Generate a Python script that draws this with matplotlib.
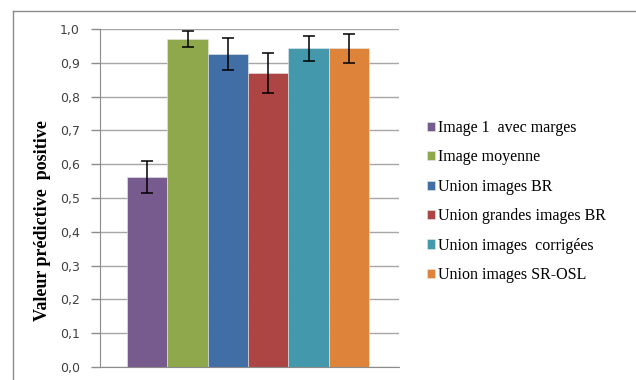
import matplotlib
matplotlib.use("Agg")
import matplotlib.pyplot as plt
from matplotlib.lines import Line2D

categories = ["Image 1  avec marges", "Image moyenne", "Union images BR",
              "Union grandes images BR", "Union images  corrigées", "Union images SR-OSL"]
values = [0.562, 0.970, 0.925, 0.870, 0.943, 0.943]
errors = [0.047, 0.023, 0.047, 0.060, 0.037, 0.043]
colors = ["#775A8E", "#8EA84B", "#416FA5", "#AC4543", "#4398AB", "#DD843A"]
yticks = [0.0, 0.1, 0.2, 0.3, 0.4, 0.5, 0.6, 0.7, 0.8, 0.9, 1.0]
ytick_labels = ["0,0", "0,1", "0,2", "0,3", "0,4", "0,5", "0,6", "0,7", "0,8", "0,9", "1,0"]
ylabel = "Valeur prédictive  positive"

W, H = 636, 380
fig = plt.figure(figsize=(W / 100, H / 100), dpi=100)
fig.patch.set_facecolor("white")

# outer chart border (top and left visible)
fig.add_artist(Line2D([13 / W, 13 / W], [0, 1 - 11 / H], transform=fig.transFigure,
                      color="#8c8c8c", lw=1))
fig.add_artist(Line2D([13 / W, 1], [1 - 11 / H, 1 - 11 / H], transform=fig.transFigure,
                      color="#8c8c8c", lw=1))

ax = fig.add_axes([100 / W, 1 - 367 / H, 299 / W, 338 / H])
x = list(range(len(categories)))
handles = []
for i in x:
    b = ax.bar(i, values[i], width=1.0, color=colors[i], edgecolor="#e8e8e8",
               linewidth=0.4, zorder=2, label=categories[i])
    handles.append(b)
ax.errorbar(x, values, yerr=errors, fmt="none", ecolor="black", elinewidth=1.1,
            capsize=4, capthick=1.1, zorder=3)

ax.set_xlim(-1.17, 6.24)
ax.set_ylim(0, 1.0)
ax.set_yticks(yticks)
ax.set_yticklabels(ytick_labels, fontsize=9, family="DejaVu Sans", color="#404040")
ax.set_xticks([])
ax.yaxis.grid(True, color="#a6a6a6", linewidth=1, zorder=0)
ax.set_axisbelow(True)
for s in ["top", "right"]:
    ax.spines[s].set_visible(False)
ax.spines["left"].set_color("#8c8c8c")
ax.spines["bottom"].set_color("#8c8c8c")
ax.tick_params(axis="y", length=6.5, color="#8c8c8c", width=1, pad=8)

fig.text(43 / W, 1 - 221 / H, ylabel, rotation=90, ha="center", va="center",
         fontsize=13, family="Liberation Serif", fontweight="bold", color="black")

leg = fig.legend(handles=handles, labels=categories, loc="upper left",
                 bbox_to_anchor=(427 / W, 1 - 120 / H), frameon=False,
                 prop={"family": "Liberation Serif", "size": 11.5},
                 handlelength=0.52, handleheight=0.52, handletextpad=0.15,
                 labelspacing=0.84, borderaxespad=0, borderpad=0)

fig.savefig("out.png", dpi=100)
